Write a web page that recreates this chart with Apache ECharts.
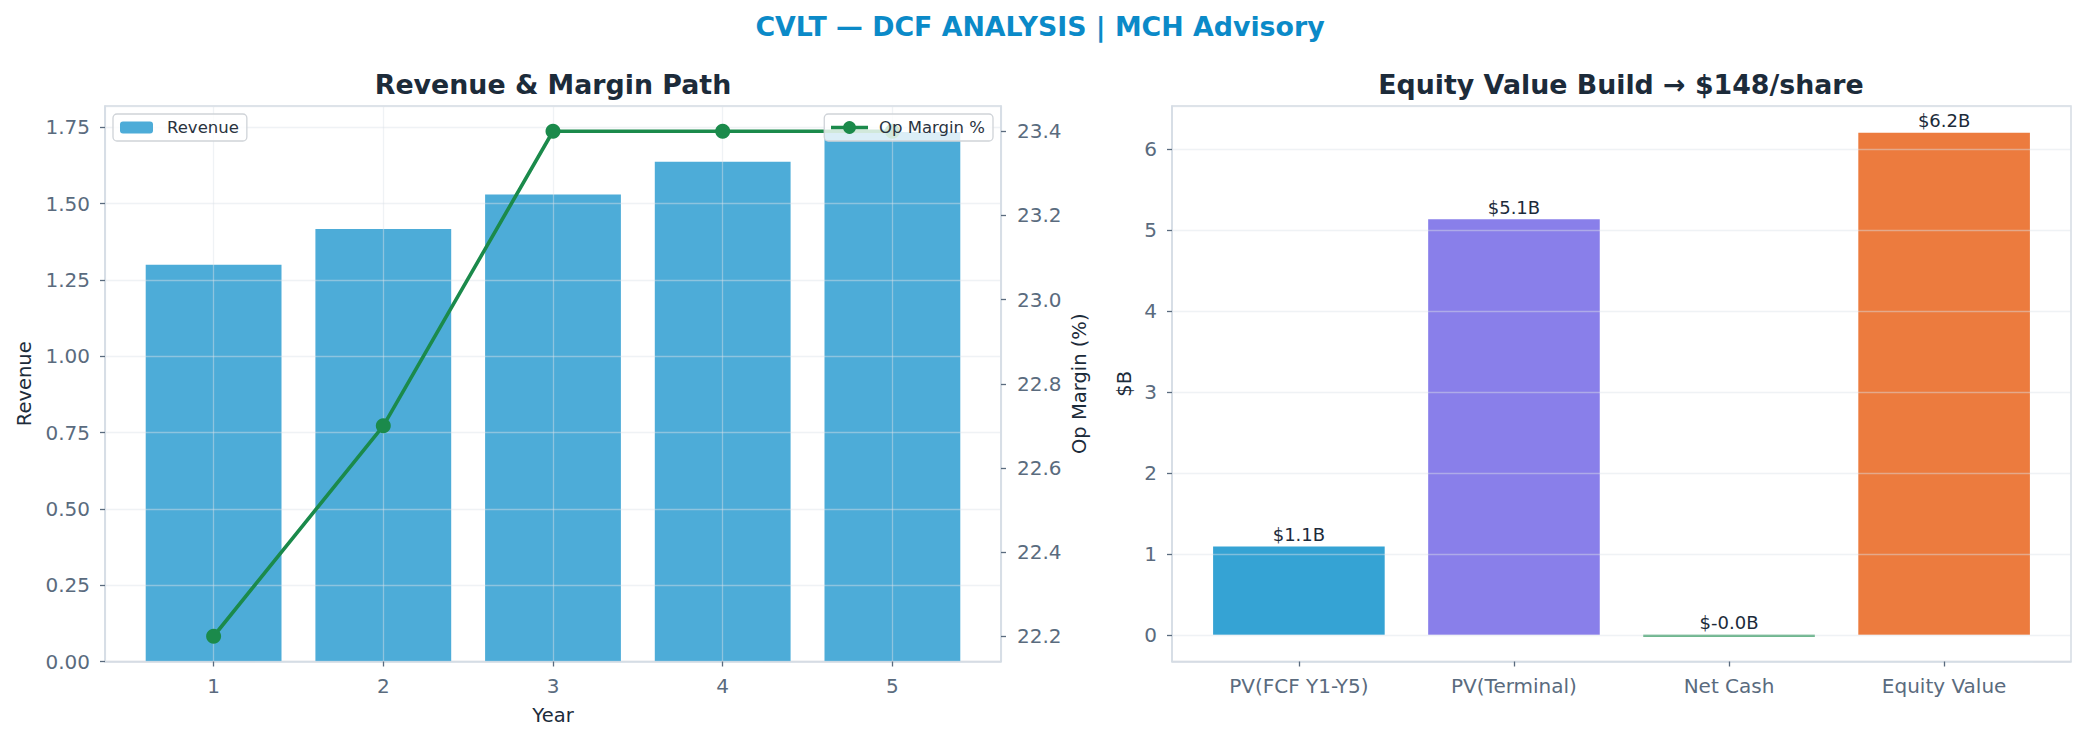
<!DOCTYPE html>
<html>
<head>
<meta charset="utf-8">
<script src="https://cdn.jsdelivr.net/npm/echarts@6/dist/echarts.min.js"></script>
<style>
html,body{margin:0;padding:0;background:#fff;}
#chart{width:2084px;height:742px;}
</style>
</head>
<body>
<div id="chart"></div>
<script>
// ---- Data ----
const years = [1, 2, 3, 4, 5];
const revenue = [1.30, 1.417, 1.530, 1.637, 1.735];
const opMargin = [22.2, 22.7, 23.4, 23.4, 23.4];
const bridgeCategories = ['PV(FCF Y1-Y5)', 'PV(Terminal)', 'Net Cash', 'Equity Value'];
const bridgeValues = [1.09, 5.13, -0.02, 6.20];

// ---- Styles ----
const bridgeColors = ['#35a3d4', '#897fea', '#2f9a5c', '#ec7b3e'];
const FONT = 'DejaVu Sans';
const tickColor = '#5a6b7e';
const spineColor = '#d5dce4';
const gridLine = 'rgba(220,226,232,0.45)';
const darkText = '#1c2b3a';

const chart = echarts.init(document.getElementById('chart'), null, {renderer: 'svg'});

const axisCommon = {
  axisLine: {show: true, onZero: false, lineStyle: {color: spineColor, width: 1.5}},
  axisTick: {show: true, length: 5, lineStyle: {color: tickColor, width: 1.3}},
  axisLabel: {color: tickColor, fontSize: 20, fontFamily: FONT, showMinLabel: false, showMaxLabel: false},
  nameTextStyle: {color: darkText, fontSize: 19.5, fontFamily: FONT},
  nameLocation: 'middle',
  z: 3
};

function merge(a, b) {
  const o = JSON.parse(JSON.stringify(a));
  for (const k in b) {
    if (b[k] && typeof b[k] === 'object' && !Array.isArray(b[k]) && typeof b[k] !== 'function' && o[k] && typeof o[k] === 'object') {
      o[k] = Object.assign({}, o[k], b[k]);
    } else {
      o[k] = b[k];
    }
  }
  return o;
}

const option = {
  backgroundColor: '#ffffff',
  animation: false,
  textStyle: {fontFamily: FONT},
  title: [
    {text: 'CVLT — DCF ANALYSIS | MCH Advisory', left: 1040, textAlign: 'center', top: 11, padding: 0,
     textStyle: {color: '#0b8ac8', fontSize: 26.8, fontWeight: 'bold', fontFamily: FONT, lineHeight: 30}},
    {text: 'Revenue & Margin Path', left: 553, textAlign: 'center', top: 69, padding: 0,
     textStyle: {color: darkText, fontSize: 26.8, fontWeight: 'bold', fontFamily: FONT, lineHeight: 30}},
    {text: 'Equity Value Build → $148/share', left: 1621, textAlign: 'center', top: 69, padding: 0,
     textStyle: {color: darkText, fontSize: 26.8, fontWeight: 'bold', fontFamily: FONT, lineHeight: 30}}
  ],
  legend: [
    {data: ['Revenue'], left: 113, top: 114, orient: 'vertical',
     padding: [5, 8, 5, 7], itemWidth: 33, itemHeight: 12,
     backgroundColor: 'rgba(255,255,255,0.8)', borderColor: '#cfd3d8', borderWidth: 1.3, borderRadius: 4,
     textStyle: {color: '#2a3340', fontSize: 16.5, fontFamily: FONT, padding: [0, 0, 0, 9]}, z: 10},
    {data: ['Op Margin %'], right: 1091, top: 114, orient: 'vertical',
     padding: [5, 8, 5, 5], itemWidth: 37, itemHeight: 16,
     lineStyle: {width: 3.5},
     backgroundColor: 'rgba(255,255,255,0.8)', borderColor: '#cfd3d8', borderWidth: 1.3, borderRadius: 4,
     textStyle: {color: '#2a3340', fontSize: 16.5, fontFamily: FONT, padding: [0, 0, 0, 6]}, z: 10}
  ],
  grid: [
    {left: 105, top: 106, width: 896, height: 555.5, show: true, borderColor: spineColor, borderWidth: 1.5, backgroundColor: 'transparent'},
    {left: 1172, top: 106, width: 899, height: 555.5, show: true, borderColor: spineColor, borderWidth: 1.5, backgroundColor: 'transparent'}
  ],
  xAxis: [
    merge(axisCommon, {
      type: 'value', gridIndex: 0, min: 0.36, max: 5.64, splitNumber: 5,
      name: 'Year', nameGap: 44,
      axisLabel: {color: tickColor, fontSize: 20, fontFamily: FONT, margin: 14, showMinLabel: false, showMaxLabel: false,
        formatter: v => (Math.abs(v - Math.round(v)) < 1e-6 ? String(Math.round(v)) : '')},
      splitLine: {show: true, lineStyle: {color: gridLine, width: 1.3}}
    }),
    merge(axisCommon, {
      type: 'value', gridIndex: 1, min: -0.59, max: 3.59, splitNumber: 4,
      axisLabel: {color: tickColor, fontSize: 20, fontFamily: FONT, margin: 14, showMinLabel: false, showMaxLabel: false,
        formatter: v => {
          const i = Math.round(v);
          return (Math.abs(v - i) < 1e-6 && bridgeCategories[i] !== undefined) ? bridgeCategories[i] : '';
        }},
      splitLine: {show: false}
    })
  ],
  yAxis: [
    merge(axisCommon, {
      type: 'value', gridIndex: 0, position: 'left', min: 0, max: 1.82, interval: 0.25,
      name: 'Revenue', nameGap: 71,
      axisLabel: {color: tickColor, fontSize: 20, fontFamily: FONT, margin: 15, showMinLabel: true, showMaxLabel: false,
        formatter: v => v.toFixed(2)},
      splitLine: {show: true, lineStyle: {color: gridLine, width: 1.3}}
    }),
    merge(axisCommon, {
      type: 'value', gridIndex: 0, position: 'right', min: 22.14, max: 23.46, splitNumber: 6,
      name: 'Op Margin (%)', nameGap: 68,
      axisLabel: {color: tickColor, fontSize: 20, fontFamily: FONT, margin: 16, showMinLabel: false, showMaxLabel: false,
        formatter: v => v.toFixed(1)},
      splitLine: {show: false}
    }),
    merge(axisCommon, {
      type: 'value', gridIndex: 1, position: 'left', min: -0.33, max: 6.53, splitNumber: 7,
      name: '$B', nameGap: 38,
      axisLabel: {color: tickColor, fontSize: 20, fontFamily: FONT, margin: 15, showMinLabel: false, showMaxLabel: false,
        formatter: v => String(Math.round(v))},
      splitLine: {show: true, lineStyle: {color: gridLine, width: 1.3}}
    })
  ],
  series: [
    {
      name: 'Revenue', type: 'bar', xAxisIndex: 0, yAxisIndex: 0,
      data: years.map((y, i) => [y, revenue[i]]),
      barWidth: 135.8,
      itemStyle: {color: '#4dacd8'},
      z: 2
    },
    {
      name: 'Op Margin %', type: 'line', xAxisIndex: 0, yAxisIndex: 1,
      data: years.map((y, i) => [y, opMargin[i]]),
      symbol: 'circle', symbolSize: 15,
      lineStyle: {color: '#1b8a4b', width: 3.6},
      itemStyle: {color: '#1b8a4b'},
      z: 5
    },
    {
      name: 'Bridge', type: 'bar', xAxisIndex: 1, yAxisIndex: 2,
      data: bridgeValues.map((v, i) => ({value: [i, v], itemStyle: {color: bridgeColors[i]}})),
      barWidth: 171.6,
      barMinHeight: 2,
      label: {show: true, position: 'top', distance: 3, color: darkText, fontSize: 18, fontFamily: FONT,
        formatter: p => '$' + p.value[1].toFixed(1) + 'B'},
      z: 2
    }
  ]
};
chart.setOption(option);
</script>
</body>
</html>
